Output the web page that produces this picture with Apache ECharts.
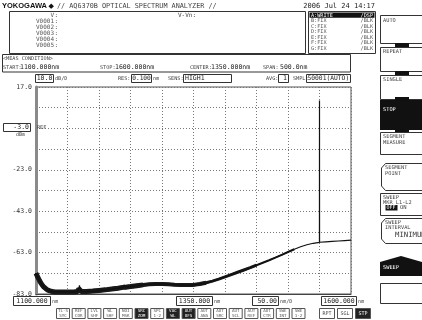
<!DOCTYPE html>
<html><head><meta charset="utf-8">
<script src="https://cdn.jsdelivr.net/npm/echarts/dist/echarts.min.js"></script>
<style>html,body{margin:0;padding:0;background:#fff}#c{width:422px;height:320px}</style>
</head><body><div id="c"></div>
<script>
// ---- data (wavelength nm, level dBm) ----
const wavelengths = [1100,1103,1106,1109,1112,1115,1118,1122,1126,1130,1140,1150,1160,1166,1168,1169,1170,1172,1180,1190,1200,1210,1220,1230,1238,1240,1242,1250,1260,1270,1280,1290,1300,1310,1320,1330,1340,1350,1360,1370,1380,1390,1400,1410,1420,1430,1440,1450,1460,1470,1480,1490,1500,1510,1520,1530,1540,1549.9,1550,1550.1,1560,1570,1580,1590,1600];
const levels = [-73,-75,-76.8,-78.3,-79.5,-80.4,-81,-81.5,-81.8,-82,-82,-82,-82,-81.8,-80.5,-78.8,-80.5,-81.8,-81.8,-81.6,-81.3,-81,-80.6,-80.2,-79.8,-78.5,-79.7,-79.4,-79,-78.6,-78.3,-78.2,-78.2,-78.3,-78.5,-78.6,-78.7,-78.6,-78.2,-77.6,-76.8,-75.8,-74.7,-73.6,-72.5,-71.4,-70.3,-69.1,-67.9,-66.7,-65.4,-64.1,-62.7,-61.4,-60.2,-59.2,-58.5,-58.1,10.5,-58,-57.8,-57.6,-57.4,-57.2,-57];
const refBottom = -83;          // dBm at bottom of screen
const refTop = 17;              // dBm at top of screen
const dbPerDiv = 10;
const wlStart = 1100, wlStop = 1600, wlPerDiv = 50;
const yLabelValues = [17, -23, -43, -63, -83];
const refLevel = -3.0;
const xBoxLabels = ['1100.000', '1350.000', '1600.000'];
const spikeWl = [1169, 1240];

const pts = wavelengths.map((w, i) => [w, levels[i] - refBottom]);
const noisePts = pts.filter(p => spikeWl.indexOf(p[0]) < 0);
const bandUpTo = [[1270, 5], [1370, 4], [1450, 3], [1510, 2]];

// ---- screen furniture ----
const G = [];
const MONO = '"DejaVu Sans Mono", monospace';
function txt(x, y, s, size, o = {}) {
  G.push({type:'text', z:20, silent:true, style:{text:s, x:x, y:y,
    font:(o.bold?'bold ':'') + size + 'px ' + (o.family || MONO),
    fill:o.fill || '#222', align:o.align || 'left', textAlign:o.align || 'left',
    verticalAlign:'middle', textVerticalAlign:'middle'}});
}
function box(x, y, w, h, o = {}) {
  G.push({type:'rect', z:o.z || 10, silent:true, shape:{x:x, y:y, width:w, height:h},
    style:{fill:o.fill || 'none', stroke:o.stroke === undefined ? '#333' : o.stroke, lineWidth:o.lw || 1}});
}
function poly(points, o = {}) {
  G.push({type:o.closed ? 'polygon' : 'polyline', z:o.z || 10, silent:true, shape:{points:points},
    style:{fill:o.fill || 'none', stroke:o.stroke === undefined ? '#333' : o.stroke, lineWidth:o.lw || 1}});
}

// header
txt(2, 6, 'YOKOGAWA', 7.5, {bold:true, family:'"Liberation Sans", Arial', fill:'#111'});
txt(48.5, 6, '◆', 7, {family:'"DejaVu Sans"', fill:'#111'});
txt(57, 6, '// AQ6370B OPTICAL SPECTRUM ANALYZER //', 6.8, {fill:'#444'});
txt(375, 6.5, '2006 Jul 24 14:17', 7, {align:'right', fill:'#222'});

// marker box
box(9.5, 11.5, 296, 42);
const mk = ['V', 'V0001', 'V0002', 'V0003', 'V0004', 'V0005'];
mk.forEach((m, i) => { txt(54, 15 + i * 6, m, 6, {align:'right', fill:'#555'}); txt(54.5, 15 + i * 6, ':', 6, {fill:'#555'}); });
txt(178, 15, 'V-Vn:', 6, {fill:'#444'});

// trace box
box(308.5, 11.5, 67, 42);
const tr = [['A:WRITE','/DSP'],['B:FIX','/BLK'],['C:FIX','/BLK'],['D:FIX','/BLK'],['E:FIX','/BLK'],['F:FIX','/BLK'],['G:FIX','/BLK']];
box(309.5, 12.5, 65, 5.2, {fill:'#111', stroke:'none'});
tr.forEach((t, i) => {
  const c = i === 0 ? '#fff' : '#555';
  txt(311, 15.2 + i * 5.5, t[0], 5.2, {fill:c});
  txt(373, 15.2 + i * 5.5, t[1], 5.2, {fill:c, align:'right'});
});

// measurement condition
box(2.5, 54.5, 348, 17.5);
txt(3, 59, '<MEAS CONDITION>', 5.2, {fill:'#444'});
txt(3, 67.5, 'START:', 5.2, {fill:'#444'});
txt(20, 67, '1100.000nm', 6.5, {fill:'#222'});
txt(100, 67.5, 'STOP:', 5.2, {fill:'#444'});
txt(115, 67, '1600.000nm', 6.5, {fill:'#222'});
txt(190, 67.5, 'CENTER:', 5.2, {fill:'#444'});
txt(211, 67, '1350.000nm', 6.5, {fill:'#222'});
txt(263, 67.5, 'SPAN:', 5.2, {fill:'#444'});
txt(280, 67, '500.0nm', 6.5, {fill:'#222'});

// settings row
box(35.5, 74.5, 18, 8);
txt(44.5, 78.7, '10.0', 6.5, {align:'center'});
txt(55, 78.7, 'dB/D', 5.2, {fill:'#444'});
txt(118, 78.7, 'RES:', 5.2, {fill:'#444'});
box(131.5, 74.5, 20, 8);
txt(141.5, 78.7, '0.100', 6.2, {align:'center'});
txt(153, 78.7, 'nm', 5.2, {fill:'#444'});
txt(168, 78.7, 'SENS:', 5.2, {fill:'#444'});
box(183.5, 74.5, 48, 8);
txt(185, 78.7, 'HIGH1', 6.5);
txt(266, 78.7, 'AVG:', 5.2, {fill:'#444'});
box(278.5, 74.5, 10, 8);
txt(287, 78.7, '1', 6.5, {align:'right'});
txt(293, 78.7, 'SMPL:', 5.2, {fill:'#444'});
box(306.5, 74.5, 44, 8);
txt(307.5, 78.7, '50001(AUTO)', 6.3);

// reference level box
box(3.5, 123.5, 27, 8);
txt(29, 127.8, refLevel.toFixed(1), 6.5, {align:'right'});
txt(16, 134.5, 'dBm', 5, {fill:'#444'});
txt(37, 127.8, 'REF', 5.2, {fill:'#444'});

// bottom x value boxes
box(13.5, 296.5, 37, 9); txt(32, 301, xBoxLabels[0], 6.5, {align:'center'}); txt(52, 301.3, 'nm', 5.2, {fill:'#444'});
box(176.5, 296.5, 36, 9); txt(194.5, 301, xBoxLabels[1], 6.5, {align:'center'}); txt(214, 301.3, 'nm', 5.2, {fill:'#444'});
box(252.5, 296.5, 26, 9); txt(277, 301, (wlPerDiv).toFixed(2), 6.5, {align:'right'}); txt(280, 301.3, 'nm/D', 5.2, {fill:'#444'});
box(321.5, 296.5, 35, 9); txt(339, 301, xBoxLabels[2], 6.5, {align:'center'}); txt(358, 301.3, 'nm', 5.2, {fill:'#444'});

// bottom function keys
const keys = [['TL-S','SYC',0],['REF','COR',0],['LVL','SHF',0],['WL','SHF',0],['NOI','MSK',0],['SRC','ZOM',1],['SPC','1-2',0],['VAC','WL',1],['AUT','OFS',1],['AUT','ANA',0],['AUT','SRC',0],['AUT','SCL',0],['AUT','REF',0],['AUT','CTR',0],['SWE','INT',0],['SWE','1-2',0]];
keys.forEach((k, i) => {
  const x = 56 + i * 15.7;
  box(x + 0.5, 308.5, 13, 10, {fill:k[2] ? '#222' : '#fff', stroke:'#555'});
  const c = k[2] ? '#fff' : '#555';
  txt(x + 7, 311.3, k[0], 4.2, {align:'center', fill:c});
  txt(x + 7, 315.8, k[1], 4.2, {align:'center', fill:c});
});
[['RPT',319,0],['SGL',337,0],['STP',355,1]].forEach(k => {
  box(k[1] + 0.5, 308.5, 15, 10, {fill:k[2] ? '#222' : '#fff', stroke:'#555'});
  txt(k[1] + 8, 313.5, k[0], 5, {align:'center', fill:k[2] ? '#fff' : '#444'});
});

// right soft-key panel
const RX = 380.5, RW = 50, PF = 5.3, pc = '#444';
box(RX, 15.5, RW, 28); txt(383, 20.5, 'AUTO', PF, {fill:pc});
box(395, 43, 14, 4.5, {fill:'#111', stroke:'none'});
box(RX, 47.5, RW, 24); txt(383, 51.5, 'REPEAT', PF, {fill:pc});
box(395, 71, 14, 4.5, {fill:'#111', stroke:'none'});
box(RX, 75.5, RW, 24); txt(383, 80, 'SINGLE', PF, {fill:pc});
box(395, 97, 14, 4, {fill:'#111', stroke:'none'});
box(380, 100, 42, 30, {fill:'#111', stroke:'none'}); txt(383, 110, 'STOP', PF, {fill:'#fff'});
box(395, 129, 14, 4, {fill:'#111', stroke:'none'});
box(RX, 132.5, RW, 22); txt(383, 137, 'SEGMENT', PF, {fill:pc}); txt(383, 142.5, 'MEASURE', PF, {fill:pc});
poly([[430,163.5],[385.5,163.5],[381.5,168],[381.5,186],[385.5,190.5],[430,190.5]]);
txt(385, 168, 'SEGMENT', PF, {fill:pc}); txt(385, 173.5, 'POINT', PF, {fill:pc});
box(RX, 193.5, RW, 22); txt(383, 197.5, 'SWEEP', PF, {fill:pc}); txt(383, 203, 'MKR L1-L2', PF, {fill:pc});
box(385.5, 205, 12, 5.5, {fill:'#111', stroke:'none'}); txt(386.5, 208, 'OFF', 5, {fill:'#fff'}); txt(400, 208, 'ON', 5.5, {fill:pc});
poly([[430,218.5],[385.5,218.5],[381.5,223],[381.5,239],[385.5,243.5],[430,243.5]]);
txt(385, 222.5, 'SWEEP', PF, {fill:pc}); txt(385, 228, 'INTERVAL', PF, {fill:pc});
txt(395, 235.5, 'MINIMUM', 7.3, {fill:'#333'});
poly([[380,262],[401,256],[422,262],[422,276],[380,276]], {closed:true, fill:'#111', stroke:'none'});
txt(383, 268, 'SWEEP', PF, {fill:'#fff'});
box(RX, 283.5, RW, 20);

const bandSeries = bandUpTo.map(b => ({type:'line', data:noisePts.filter(p => p[0] <= b[0]), symbol:'none',
  lineStyle:{color:'#1a1a1a', width:b[1]}, z:3, silent:true}));

const chart = echarts.init(document.getElementById('c'), null, {renderer:'canvas'});
chart.setOption({
  animation:false,
  backgroundColor:'#fff',
  grid:{left:36, top:87, width:315, height:207, show:true, borderColor:'#555', borderWidth:1, backgroundColor:'#fff'},
  xAxis:{type:'value', min:wlStart, max:wlStop, interval:wlPerDiv,
    axisLine:{show:true, lineStyle:{color:'#444', width:1}}, axisTick:{show:false}, axisLabel:{show:false},
    splitLine:{show:true, lineStyle:{color:'#777', type:[1,2], width:1}}},
  yAxis:{type:'value', min:0, max:refTop - refBottom, interval:dbPerDiv,
    axisLine:{show:true, lineStyle:{color:'#8a8a8a', width:3}}, axisTick:{show:false},
    axisLabel:{show:true, margin:4, showMinLabel:true, showMaxLabel:true, color:'#333', fontSize:6.5, fontFamily:'DejaVu Sans Mono',
      formatter:v => { const d = Math.round(v + refBottom); return yLabelValues.indexOf(d) >= 0 ? d.toFixed(1) : ''; }},
    splitLine:{show:true, lineStyle:{color:'#777', type:[1,2], width:1}}},
  series:bandSeries.concat([
    {type:'line', data:pts, symbol:'none', lineStyle:{color:'#111', width:1.2}, z:5, silent:true}
  ]),
  graphic:G
});
</script></body></html>
